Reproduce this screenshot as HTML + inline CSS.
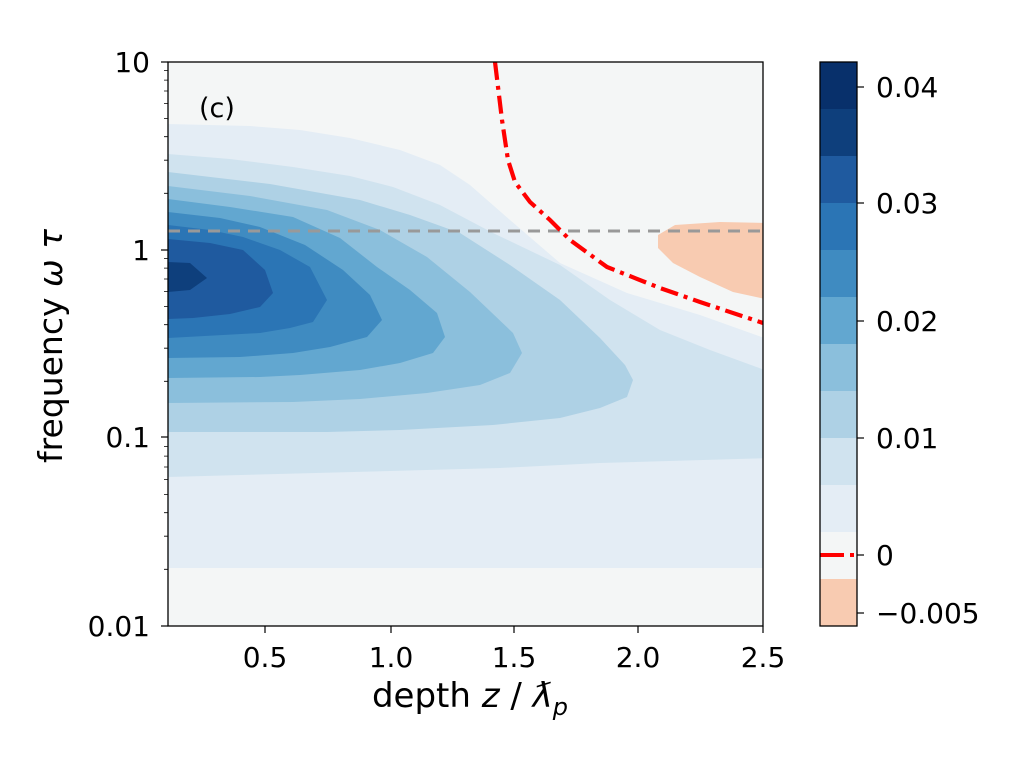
<!DOCTYPE html>
<html><head><meta charset="utf-8"><style>body{margin:0;background:#fff}svg{display:block}text{font-family:"DejaVu Sans","Liberation Sans",sans-serif;fill:#000}</style></head><body>
<svg width="1024" height="768" viewBox="0 0 1024 768" xmlns="http://www.w3.org/2000/svg">
<defs><clipPath id="c"><rect x="168" y="62" width="595" height="564"/></clipPath></defs>
<g clip-path="url(#c)">
<rect x="168" y="62" width="595" height="564" fill="#f4f6f6"/>
<polygon fill="#e4edf5" points="168,124 250,126 300,130 350,138 400,150 440,165 470,185 510,220 560,263 627,293 700,315 770,340 770,568 168,568"/>
<polygon fill="#d0e3ef" points="168,154 230,159 293,167 350,176 393,187 440,205 493,233 560,265 610,300 660,330 710,350 770,372 770,458 600,463 500,468 168,477"/>
<polygon fill="#aed1e5" points="168,172 270,184 360,200 410,215 460,233 510,265 560,300 600,338 625,365 633,380 627,397 600,408 560,418 493,425 400,430 327,432 168,432"/>
<polygon fill="#8bbfdc" points="168,186 250,196 327,210 380,230 427,257 470,292 513,333 522,353 510,373 480,385 427,393 360,399 293,402 168,403"/>
<polygon fill="#62a7d0" points="168,199 230,207 293,217 340,238 377,267 410,290 437,313 445,337 433,353 400,363 360,370 300,375 260,377 168,378"/>
<polygon fill="#3f8bc1" points="168,212 220,218 260,227 305,245 343,270 370,295 382,320 367,337 330,347 293,353 240,357 168,358"/>
<polygon fill="#2b75b5" points="168,225 210,230 243,237 280,250 310,267 327,300 313,322 290,328 260,333 168,338"/>
<polygon fill="#1f5a9f" points="168,239 210,243 243,250 265,270 273,293 260,307 230,314 193,318 168,319"/>
<polygon fill="#0e3f7c" points="168,262 190,263 207,278 190,290 168,292"/>
<polygon fill="#f8cbb1" points="658,235 675,225 720,222 770,223 770,300 733,292 700,277 673,263 658,248"/>
<line x1="168" y1="231" x2="763" y2="231" stroke="#999" stroke-width="3" stroke-dasharray="12,8"/>
<polyline fill="none" stroke="#f00" stroke-width="4.2" stroke-dasharray="18,6,4,6" points="495,62 502,120 508,160 515,182 530,202 550,220 570,240 607,267 660,288 700,302 763,323"/>
</g>
<rect x="168" y="62" width="595" height="564" fill="none" stroke="#000" stroke-width="1.3"/>
<text x="199" y="117" font-size="27">(c)</text>
<g stroke="#000" stroke-width="1.2">
<line x1="161" y1="62" x2="168" y2="62"/><line x1="161" y1="250" x2="168" y2="250"/><line x1="161" y1="437" x2="168" y2="437"/><line x1="161" y1="626" x2="168" y2="626"/>
<line x1="265" y1="626" x2="265" y2="633"/><line x1="391" y1="626" x2="391" y2="633"/><line x1="514" y1="626" x2="514" y2="633"/><line x1="638" y1="626" x2="638" y2="633"/><line x1="763" y1="626" x2="763" y2="633"/>
</g>
<g stroke="#000" stroke-width="0.8">
<path d="M164 569.3h4M164 536.2h4M164 512.7h4M164 494.5h4M164 479.6h4M164 467h4M164 456.1h4M164 446.5h4
M164 381.3h4M164 348.2h4M164 324.7h4M164 306.5h4M164 291.6h4M164 279h4M164 268.1h4M164 258.5h4
M164 193.3h4M164 160.2h4M164 136.7h4M164 118.5h4M164 103.6h4M164 91h4M164 80.1h4M164 70.5h4"/>
</g>
<g font-size="28" text-anchor="end">
<text x="150" y="72">10</text><text x="150" y="260">1</text><text x="150" y="447">0.1</text><text x="150" y="636">0.01</text>
</g>
<g font-size="28" text-anchor="middle">
<text x="265" y="667">0.5</text><text x="391" y="667">1.0</text><text x="514" y="667">1.5</text><text x="638" y="667">2.0</text><text x="763" y="667">2.5</text>
</g>
<text x="470" y="707" font-size="34" text-anchor="middle">depth <tspan font-style="italic">z</tspan> / <tspan font-style="italic">ƛ</tspan><tspan font-style="italic" font-size="24" dy="8">p</tspan></text>
<text transform="translate(62,346) rotate(-90)" font-size="33" text-anchor="middle">frequency <tspan font-style="italic">ω τ</tspan></text>
<g>
<rect x="820" y="62" width="37" height="47" fill="#08306b"/>
<rect x="820" y="109" width="37" height="47" fill="#0e3f7c"/>
<rect x="820" y="156" width="37" height="47" fill="#1f5a9f"/>
<rect x="820" y="203" width="37" height="47" fill="#2b75b5"/>
<rect x="820" y="250" width="37" height="47" fill="#3f8bc1"/>
<rect x="820" y="297" width="37" height="47" fill="#62a7d0"/>
<rect x="820" y="344" width="37" height="47" fill="#8bbfdc"/>
<rect x="820" y="391" width="37" height="47" fill="#aed1e5"/>
<rect x="820" y="438" width="37" height="47" fill="#d0e3ef"/>
<rect x="820" y="485" width="37" height="47" fill="#e4edf5"/>
<rect x="820" y="532" width="37" height="47" fill="#f4f6f6"/>
<rect x="820" y="579" width="37" height="47" fill="#f8cbb1"/>
<line x1="820" y1="555" x2="857" y2="555" stroke="#f00" stroke-width="4" stroke-dasharray="24,6,4,6"/>
<rect x="820" y="62" width="37" height="564" fill="none" stroke="#000" stroke-width="1.3"/>
<g stroke="#000" stroke-width="1.2">
<line x1="857" y1="87" x2="864" y2="87"/><line x1="857" y1="203" x2="864" y2="203"/><line x1="857" y1="321" x2="864" y2="321"/><line x1="857" y1="438" x2="864" y2="438"/><line x1="857" y1="555" x2="864" y2="555"/><line x1="857" y1="613" x2="864" y2="613"/>
</g>
<g font-size="28">
<text x="876" y="97">0.04</text><text x="876" y="213">0.03</text><text x="876" y="331">0.02</text><text x="876" y="448">0.01</text><text x="876" y="565">0</text><text x="876" y="623">−0.005</text>
</g>
</g>
</svg>
</body></html>
